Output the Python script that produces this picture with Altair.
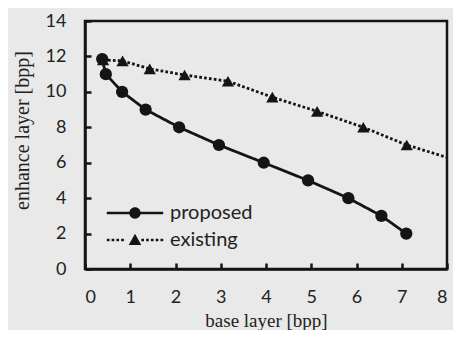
import altair as alt
import pandas as pd

# ---- data ----
proposed_x = [0.38, 0.46, 0.82, 1.34, 2.08, 2.96, 3.95, 4.93, 5.82, 6.55, 7.10]
proposed_y = [11.85, 11.0, 10.0, 9.0, 8.0, 7.0, 6.0, 5.0, 4.0, 3.0, 2.0]
existing_x = [0.40, 0.83, 1.43, 2.20, 3.16, 4.14, 5.13, 6.15, 7.11]
existing_y = [11.8, 11.75, 11.3, 10.95, 10.6, 9.7, 8.9, 8.0, 7.0]
existing_tail_x = [8.0]          # line continues to the frame, no marker
existing_tail_y = [6.3]
series = ["proposed", "existing"]
x_ticks = [0, 1, 2, 3, 4, 5, 6, 7, 8]
y_ticks = [0, 2, 4, 6, 8, 10, 12, 14]

pts = pd.DataFrame(
    {"x": proposed_x + existing_x,
     "y": proposed_y + existing_y,
     "series": ["proposed"] * len(proposed_x) + ["existing"] * len(existing_x)}
)
lines = pd.concat(
    [pts,
     pd.DataFrame({"x": existing_tail_x, "y": existing_tail_y, "series": ["existing"]})],
    ignore_index=True,
)
lines["order"] = lines["x"]

INK = "#141414"
SANS = "Lato"
SERIF = "Liberation Serif"

# legend symbols: line + marker drawn as one filled custom path (unit = 6px)
def bar(x0, x1, h=0.21):
    return f"M{x0:.2f},{-h}H{x1:.2f}V{h}H{x0:.2f}Z"

circle_path = (bar(-4.7, 4.7) + " M0.95,0A0.95,0.95 0 1,1 -0.95,0"
               "A0.95,0.95 0 1,1 0.95,0Z")
dots = [bar(s, s + 0.45) for s in [-4.7, -3.9, -3.1, -2.3, 1.05, 1.85, 2.65, 3.45, 4.25]]
tri_path = " ".join(dots) + " M0,-1.05L1.05,0.85L-1.05,0.85Z"

xscale = alt.Scale(domain=[0, 8], nice=False, zero=False)
yscale = alt.Scale(domain=[0, 14], nice=False, zero=False)

# layer 1: lines, carries inward ticks
line_layer = alt.Chart(lines).mark_line(color=INK, strokeWidth=2.8, clip=True).encode(
    x=alt.X("x:Q", scale=xscale,
            axis=alt.Axis(orient="bottom", values=x_ticks, labels=False, domain=False,
                          ticks=True, tickSize=6, tickWidth=2.5, tickColor=INK,
                          offset=-6, title=None, grid=False)),
    y=alt.Y("y:Q", scale=yscale,
            axis=alt.Axis(orient="left", values=y_ticks, labels=False, domain=False,
                          ticks=True, tickSize=6, tickWidth=2.5, tickColor=INK,
                          offset=-6, title=None, grid=False)),
    strokeDash=alt.StrokeDash("series:N",
                              scale=alt.Scale(domain=series, range=[[1, 0], [2.7, 2.2]]),
                              legend=None),
    detail="series:N",
    order="order:Q",
)

# layer 2: markers, carries labels, domain and titles
point_layer = alt.Chart(pts).mark_point(filled=True, opacity=1, color=INK, size=150).encode(
    x=alt.X("x:Q", scale=xscale,
            axis=alt.Axis(orient="bottom", values=x_ticks, ticks=False, domain=True,
                          domainColor=INK, domainWidth=2.5, labelFont=SANS,
                          labelFontSize=18, labelColor="#222", labelPadding=19,
                          title="base layer [bpp]", titleFont=SERIF,
                          titleFontSize=19, titleFontWeight="normal", titleColor="#222",
                          titleX=181, titleY=51, titleBaseline="middle",
                          titleAlign="center", grid=False)),
    y=alt.Y("y:Q", scale=yscale,
            axis=alt.Axis(orient="left", values=y_ticks, ticks=False, domain=True,
                          domainColor=INK, domainWidth=2.5, labelFont=SANS,
                          labelFontSize=18, labelColor="#222", labelPadding=19,
                          title="enhance layer [bpp]", titleFont=SERIF,
                          titleFontSize=20, titleFontWeight="normal", titleColor="#222",
                          titleX=-63, titleY=109, titleBaseline="middle",
                          titleAlign="center", titleAngle=270, grid=False)),
    shape=alt.Shape("series:N",
                    scale=alt.Scale(domain=series, range=["circle", "triangle-up"]),
                    legend=None),
)

# layer 3: invisible, only provides the legend
legend_layer = alt.Chart(pts).mark_point(filled=True, opacity=0, color=INK).encode(
    x=alt.X("x:Q", scale=xscale, axis=None),
    y=alt.Y("y:Q", scale=yscale, axis=None),
    shape=alt.Shape("series:N",
                    scale=alt.Scale(domain=series, range=[circle_path, tri_path]),
                    legend=alt.Legend(title=None, orient="none", legendX=40, legendY=182,
                                      symbolSize=144, symbolOpacity=1,
                                      symbolFillColor=INK, symbolStrokeColor=INK,
                                      symbolStrokeWidth=0, labelOffset=25,
                                      labelFont=SANS, labelFontSize=20,
                                      labelColor="#222", rowPadding=7, padding=0)),
)

chart = (
    alt.layer(line_layer, point_layer, legend_layer)
    .resolve_scale(shape="independent", strokeDash="independent")
    .resolve_axis(x="independent", y="independent")
    .properties(
        width=362, height=248,
        autosize=alt.AutoSizeParams(type="none"),
        padding={"left": 77, "top": 13, "right": 6, "bottom": 61},
        background="#e9e9e9",
    )
    .configure_view(stroke=INK, strokeWidth=2.5)
)

chart.save("out.html", embed_options={"renderer": "svg", "actions": False})
